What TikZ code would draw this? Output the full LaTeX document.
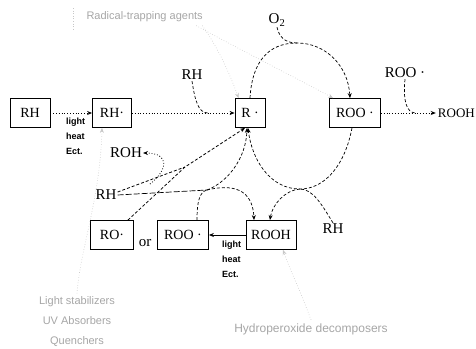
\documentclass[tikz,border=0pt]{standalone}
\usepackage{fontspec}
\setmainfont{Liberation Serif}
\newfontfamily\sansf{Liberation Sans}
\usetikzlibrary{arrows.meta}
\begin{document}
\begin{tikzpicture}[x=1pt,y=-1pt,
 box/.style={draw, line width=0.8pt, minimum height=29pt, inner sep=0pt, font=\fontsize{14}{14}\selectfont},
 lbl/.style={inner sep=1pt, font=\fontsize{15}{15}\selectfont},
 cond/.style={font=\sansf\bfseries\fontsize{9}{15}\selectfont, align=left, inner sep=0pt},
 faint/.style={text=black!35, font=\sansf\fontsize{11}{20}\selectfont, align=center},
 fline/.style={black!22, dotted, line width=0.6pt},
 dl/.style={dotted, line width=0.8pt},
 dsh/.style={densely dashed, line width=0.7pt},
 tip/.style={-{Stealth[length=5pt,width=4pt]}}
]
\useasboundingbox (0,0) rectangle (476,348);
% boxes
\node[box, minimum width=40pt] (RH) at (30,113) {RH};
\node[box, minimum width=39pt] (RHd) at (112,113) {RH·};
\node[box, minimum width=30pt] (R) at (250,113) {R ·};
\node[box, minimum width=51pt] (ROOa) at (355,113) {ROO ·};
\node[box, minimum width=43pt] (RO) at (112,235) {RO·};
\node[box, minimum width=51pt] (ROOb) at (183,235) {ROO ·};
\node[box, minimum width=50pt] (ROOH) at (271,235) {ROOH};
% labels
\node[lbl, anchor=east, inner sep=0pt, font=\fontsize{13}{13}\selectfont] (ROOHt) at (475,113) {ROOH};
\node[lbl] (RHt) at (192,75) {RH};
\node[lbl] (O2) at (277,20) {O\textsubscript{2}};
\node[lbl] (ROOt) at (405,73) {ROO ·};
\node[lbl] (RHm) at (106,195) {RH};
\node[lbl] (ROH) at (126,153) {ROH};
\node[lbl] (RHr) at (333,229) {RH};
\node[lbl] (or) at (145,243) {or};
\node[cond, anchor=north west] (c1) at (66,118) {light\\heat\\Ect.};
\node[cond, anchor=north west] (c2) at (222,241) {light\\heat\\Ect.};
\node[faint, anchor=west] (rta) at (83,17) {Radical-trapping agents};
\node[faint] (ls) at (77,322) {Light stabilizers\\UV Absorbers\\Quenchers};
\node[faint, font=\sansf\fontsize{12}{12}\selectfont] (hd) at (311,329) {Hydroperoxide decomposers};
% coordinates
\coordinate (j1) at (208,113);
\coordinate (top) at (297,43);
\coordinate (j2) at (416,113);
\coordinate (cross) at (300,189);
\coordinate (m) at (207,190);
\coordinate (j3) at (185,167);
\coordinate (k) at (150,184);
\coordinate (f0a) at (73,8);
\coordinate (f0b) at (73,30);
% main connectors
\draw[dl, tip] (RH) -- (RHd);
\draw[dl, tip] (RHd) -- (R);
\draw[dsh] (RHt.south) .. controls (195,100) and (198,113) .. (j1);
\draw[dsh, tip] (R.north) .. controls (252,62) and (268,43) .. (top) .. controls (325,43) and (348,65) .. ([xshift=-5pt]ROOa.north);
\draw[dsh] (O2.south) .. controls (279,36) and (284,43) .. (top);
\draw[dl, tip] (ROOa) -- ([xshift=-2pt]ROOHt.west);
\draw[dsh] (ROOt.south) .. controls (403,100) and (406,113) .. (j2);
\draw[dsh, tip] ([xshift=-3pt]ROOa.south) .. controls (345,165) and (325,189) .. (cross) .. controls (270,189) and (252,160) .. ([xshift=-2pt]R.south);
\draw[dsh] (RHr.north) .. controls (322,205) and (313,189) .. (cross);
\draw[dsh, tip] (cross) .. controls (285,190) and (272,205) .. ([xshift=-1pt]ROOH.north);
\draw[line width=0.7pt, dash pattern=on 6pt off 2pt] (RHm.east) -- (m);
\draw[dsh] ([xshift=14pt]ROOb.north) .. controls (197,203) and (199,192) .. (m);
\draw[dsh, tip] (m) .. controls (228,182) and (246,158) .. ([xshift=-3pt]R.south);
\draw[dsh, tip] (m) .. controls (240,182) and (253,195) .. ([xshift=-17pt]ROOH.north);
\draw[line width=0.8pt, dash pattern=on 3pt off 2pt] ([yshift=3pt]RHm.east) -- (j3);
\draw[line width=0.8pt, dash pattern=on 3pt off 2pt, tip] ([xshift=-6pt]RO.north east) -- (j3) -- ([xshift=-5pt]R.south);
\draw[dl, tip] (k) .. controls (168,170) and (170,153) .. (ROH.east);
\draw[line width=0.7pt, tip] (ROOH) -- (ROOb);
% faint inhibitor lines
\draw[fline] (f0a) -- (f0b);
\draw[fline, tip] ([xshift=-4pt]rta.south east) .. controls (220,50) and (232,80) .. ([xshift=4pt]R.north west);
\draw[fline, tip] ([xshift=-10pt]rta.south east) .. controls (250,55) and (300,80) .. ([xshift=4pt]ROOa.north west);
\draw[fline, tip] (ls.north) .. controls (80,250) and (100,200) .. ([xshift=-10pt]RHd.south);
\draw[fline, tip] (hd.north) .. controls (300,290) and (290,270) .. ([xshift=12pt]ROOH.south);
\end{tikzpicture}
\end{document}
